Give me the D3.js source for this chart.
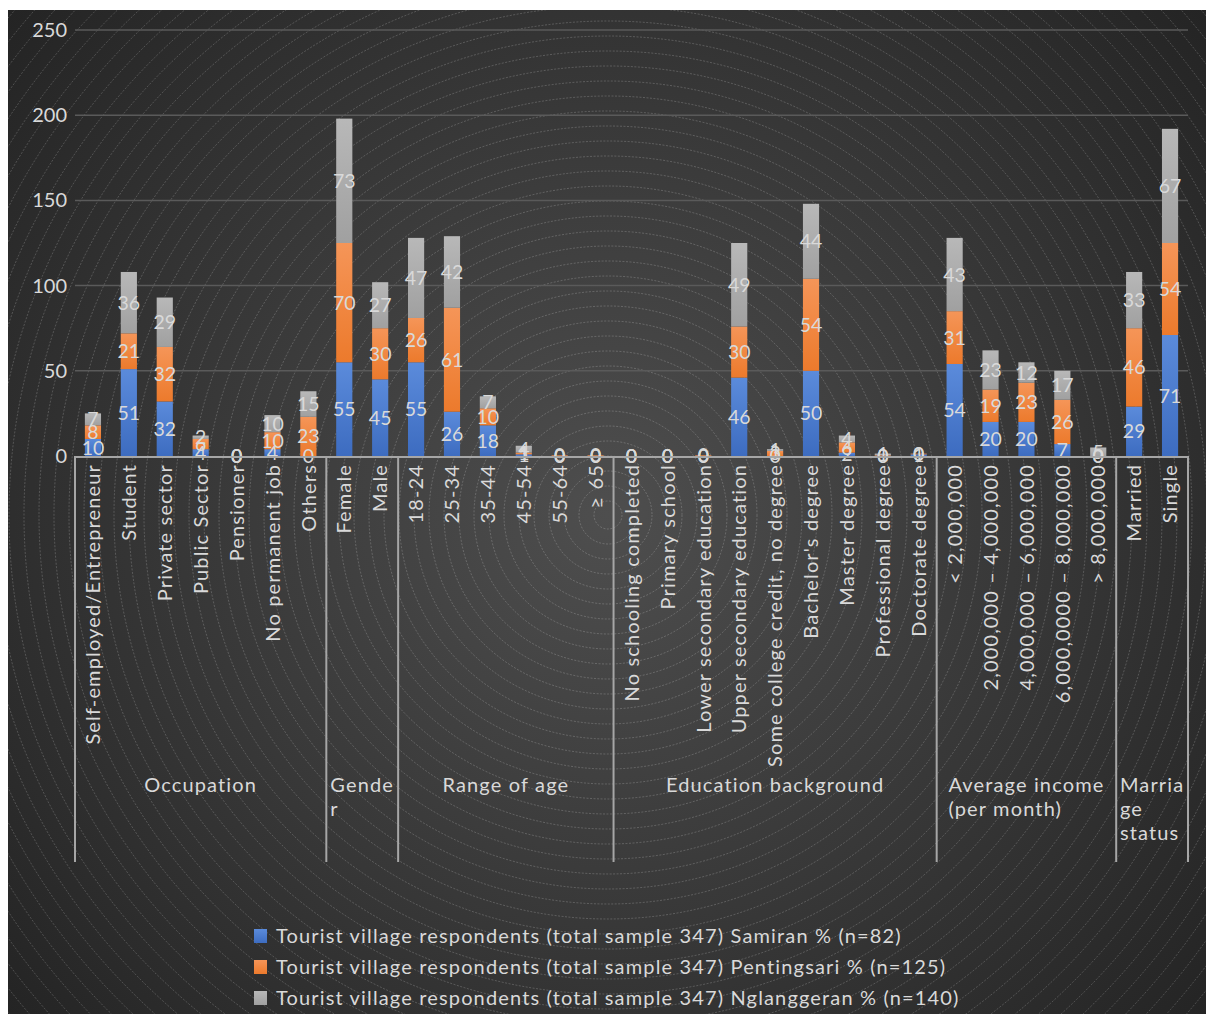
<!DOCTYPE html>
<html><head><meta charset="utf-8">
<script src="https://cdn.jsdelivr.net/npm/d3@7"></script>
<style>
html,body{margin:0;padding:0;background:#fff;}
svg{display:block;}
text{font-family:Lato,"Open Sans",sans-serif;}
</style></head>
<body>
<svg id="chart" width="1206" height="1014"></svg>
<script>
const categories = ["Self-employed/Entrepreneur","Student","Private sector","Public Sector","Pensioner","No permanent job","Others",
  "Female","Male",
  "18-24","25-34","35-44","45-54","55-64","≥ 65",
  "No schooling completed","Primary school","Lower secondary education","Upper secondary education","Some college credit, no degree","Bachelor's degree","Master degree","Professional degree","Doctorate degree",
  "< 2,000,000","2,000,000 – 4,000,000","4,000,000 – 6,000,000","6,000,0000 – 8,000,000","> 8,000,000",
  "Married","Single"];
const groups = [
  {name:["Occupation"], count:7},
  {name:["Gende","r"], count:2},
  {name:["Range of age"], count:6},
  {name:["Education background"], count:9},
  {name:["Average income","(per month)"], count:5},
  {name:["Marria","ge","status"], count:2}
];
const samiran =     [10,51,32,4,0,4,0, 55,45, 55,26,18,1,0,0, 0,0,0,46,0,50,2,0,1, 54,20,20,7,0, 29,71];
const pentingsari = [8,21,32,6,0,10,23, 70,30, 26,61,10,1,0.4,0.4, 0,0,0.4,30,3,54,6,0.4,0.4, 31,19,23,26,0, 46,54];
const nglanggeran = [7,36,29,2,0,10,15, 73,27, 47,42,7,4,0,0, 0,0,0,49,1,44,4,1,0, 43,23,12,17,5, 33,67];
const seriesNames = ["Tourist village respondents (total sample 347) Samiran % (n=82)",
  "Tourist village respondents (total sample 347) Pentingsari % (n=125)",
  "Tourist village respondents (total sample 347) Nglanggeran % (n=140)"];
const yTicks = [0,50,100,150,200,250];

const colors = [["#5b8bdb","#3d6cc0"],["#f59558","#ec7a2c"],["#b8b8b8","#a0a0a0"]];
const LS = "1.15px";

const svg = d3.select("#chart");
const defs = svg.append("defs");
const bgGrad = defs.append("radialGradient").attr("id","bg").attr("gradientUnits","userSpaceOnUse")
  .attr("cx",608).attr("cy",515).attr("r",800);
bgGrad.append("stop").attr("offset","0").attr("stop-color","#4e4e4e");
bgGrad.append("stop").attr("offset","1").attr("stop-color","#232323");
colors.forEach((c,i)=>{
  const g = defs.append("linearGradient").attr("id","g"+i).attr("x1",0).attr("y1",0).attr("x2",0).attr("y2",1);
  g.append("stop").attr("offset","0").attr("stop-color",c[0]);
  g.append("stop").attr("offset","1").attr("stop-color",c[1]);
});
defs.append("clipPath").attr("id","clip").append("rect").attr("x",8).attr("y",10).attr("width",1198).attr("height",1004);

svg.append("rect").attr("x",8).attr("y",10).attr("width",1198).attr("height",1004).attr("fill","url(#bg)");
const rings = svg.append("g").attr("clip-path","url(#clip)");
d3.range(14,1000,15).forEach(r=>{
  rings.append("circle").attr("cx",608).attr("cy",515).attr("r",r)
    .attr("fill","none").attr("stroke","#ffffff").attr("stroke-opacity",0.28).attr("stroke-width",0.7)
    .attr("stroke-dasharray","2,1.5");
});

const x0 = 75, x1 = 1188;
const x = d3.scaleBand().domain(d3.range(categories.length)).range([x0,x1]).paddingInner(0.55).paddingOuter(0.275);
const y = d3.scaleLinear().domain([0,250]).range([456,30]);

svg.append("g").selectAll("line").data(yTicks.filter(d=>d>0)).join("line")
  .attr("x1",x0).attr("x2",x1).attr("y1",d=>y(d)).attr("y2",d=>y(d))
  .attr("stroke","#5a5a5a").attr("stroke-width",1.5);

const yAxis = d3.axisLeft(y).tickValues(yTicks).tickSize(0).tickPadding(8);
const yg = svg.append("g").attr("transform",`translate(${x0},0)`).call(yAxis);
yg.select(".domain").remove();
yg.selectAll("text").attr("fill","#d9d9d9").attr("font-size",20).attr("font-family","Lato");

const rows = categories.map((c,i)=>({i, s0:samiran[i], s1:pentingsari[i], s2:nglanggeran[i]}));
const stack = d3.stack().keys(["s0","s1","s2"])(rows);
stack.forEach((layer,k)=>{
  svg.append("g").selectAll("rect").data(layer).join("rect")
    .attr("x",d=>x(d.data.i)).attr("width",x.bandwidth())
    .attr("y",d=>y(d[1])).attr("height",d=>y(d[0])-y(d[1]))
    .attr("fill",`url(#g${k})`);
});
stack.forEach((layer,k)=>{
  svg.append("g").selectAll("text").data(layer).join("text")
    .attr("x",d=>x(d.data.i)+x.bandwidth()/2)
    .attr("y",d=>(y(d[0])+y(d[1]))/2)
    .attr("dy","0.36em").attr("text-anchor","middle")
    .attr("font-size",19.5).attr("fill","#d9d9d9")
    .text(d=>d3.format(".0f")(d[1]-d[0]));
});

svg.append("line").attr("x1",x0).attr("x2",x1+1).attr("y1",457).attr("y2",457)
  .attr("stroke","#a6a6a6").attr("stroke-width",2);
svg.append("g").selectAll("text").data(categories).join("text")
  .attr("transform",(d,i)=>`translate(${x(i)+x.bandwidth()/2},464) rotate(-90)`)
  .attr("text-anchor","end").attr("dy","0.36em").attr("letter-spacing",LS)
  .attr("font-size",20).attr("fill","#d9d9d9").text(d=>d);

const step = x.step();
let start = 0;
const bounds=[0];
groups.forEach(g=>{start+=g.count;bounds.push(start);});
svg.append("g").selectAll("line").data(bounds).join("line")
  .attr("x1",b=>x0+b*step).attr("x2",b=>x0+b*step).attr("y1",456).attr("y2",862)
  .attr("stroke","#a6a6a6").attr("stroke-width",2);
groups.forEach((g,gi)=>{
  const left = x0+bounds[gi]*step, right = x0+bounds[gi+1]*step;
  const cx = (left+right)/2;
  const t = svg.append("text").attr("font-size",20).attr("fill","#d9d9d9").attr("letter-spacing",LS);
  if(g.name.length===1){
    t.attr("x",cx).attr("y",792).attr("text-anchor","middle").text(g.name[0]);
  } else {
    const spans = g.name.map((ln,li)=>t.append("tspan").attr("y",792+li*24).text(ln));
    const maxW = d3.max(spans, s=>s.node().getComputedTextLength());
    spans.forEach(s=>s.attr("x",cx-maxW/2));
  }
});

const leg = svg.append("g");
seriesNames.forEach((n,k)=>{
  const ly = 936 + k*31;
  leg.append("rect").attr("x",254).attr("y",ly-7).attr("width",13).attr("height",14).attr("fill",`url(#g${k})`);
  leg.append("text").attr("x",276).attr("y",ly).attr("dy","0.36em").attr("font-size",20).attr("letter-spacing",LS)
    .attr("fill","#d9d9d9").text(n);
});
</script>
</body></html>
